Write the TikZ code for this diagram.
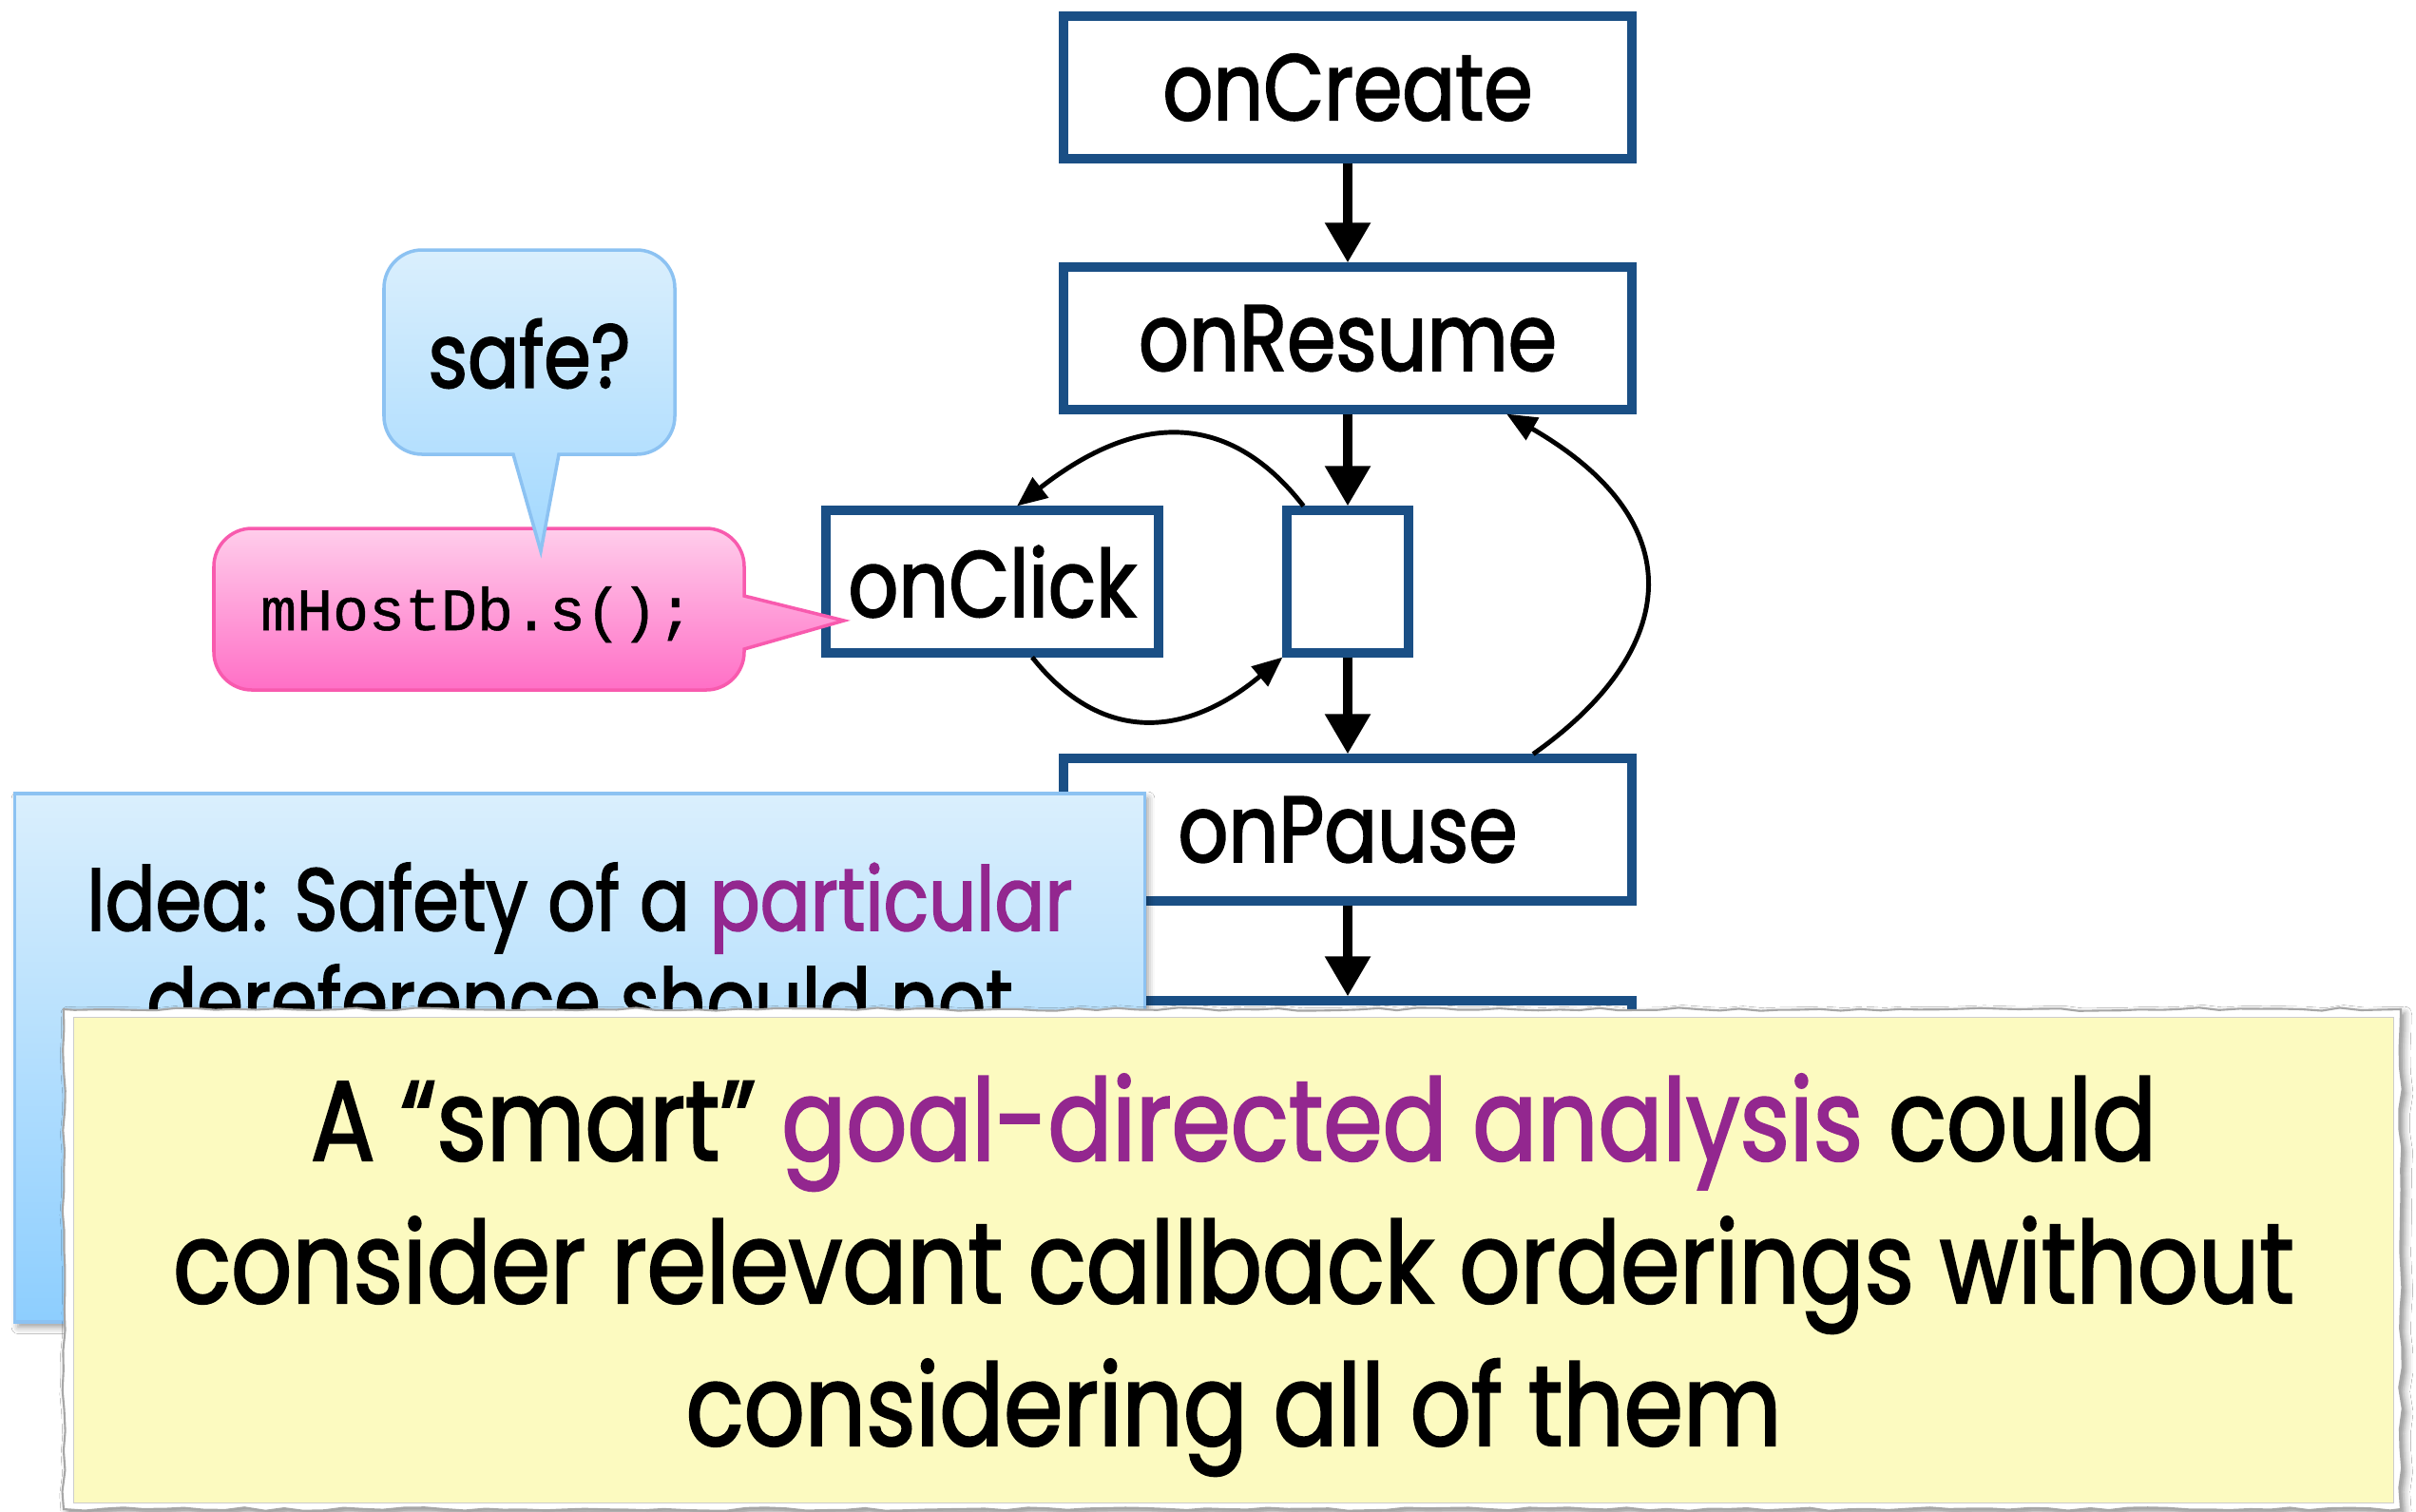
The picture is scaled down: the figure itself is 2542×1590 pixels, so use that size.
\documentclass[tikz,border=0pt]{standalone}
\usepackage{fontspec}
\setmainfont{Poppins}[FakeStretch=0.84, FakeBold=1.8]
\setmonofont{Liberation Mono}[FakeBold=0.8]
\usetikzlibrary{arrows.meta,shadows,shadows.blur,decorations.pathmorphing}

\definecolor{flowblue}{HTML}{1A4F85}
\definecolor{accent}{HTML}{93278F}
\definecolor{noteyellow}{HTML}{FCFAC0}
\definecolor{skytop}{HTML}{DAEFFD}
\definecolor{skybot}{HTML}{A2D8FE}
\definecolor{skyedge}{HTML}{8CC2F2}
\definecolor{ideabot}{HTML}{8DCEFE}
\definecolor{pinktop}{HTML}{FFCDEB}
\definecolor{pinkbot}{HTML}{FF6FC6}
\definecolor{pinkedge}{HTML}{F85AAE}

\tikzset{
  cbbox/.style={draw=flowblue, line width=2.85pt, fill=white, inner sep=0pt,
    minimum height=1.49cm, font=\fontsize{28}{30}\selectfont,
    drop shadow={shadow xshift=1.5pt, shadow yshift=-1.5pt, opacity=0.25, fill=black}},
  flow/.style={line width=2.85pt, -{Triangle[length=12pt,width=13pt]}},
  cbcurve/.style={line width=1.4pt, -{Triangle[length=9pt,width=7.5pt]}},
  bubble/.style={line width=1pt},
  notetext/.style={font=\fontsize{34}{42}\selectfont, anchor=base},
  ideatext/.style={font=\fontsize{26.5}{30}\selectfont, anchor=base},
}

\begin{document}
\begin{tikzpicture}[x=0.01cm, y=-0.01cm]
\useasboundingbox (0,0) rectangle (2542,1590);
\fill[white] (0,0) rectangle (2542,1590);

% callback flow
\node[cbbox, minimum width=5.97cm] (create) at (1418,92)  {onCreate};
\node[cbbox, minimum width=5.97cm] (resume) at (1418,356) {onResume};
\node[cbbox, minimum width=1.27cm] (hub)    at (1418,612) {};
\node[cbbox, minimum width=3.50cm] (click)  at (1044,612) {onClick};
\node[cbbox, minimum width=5.97cm] (pause)  at (1418,873) {onPause};
\node[cbbox, minimum width=5.97cm] (stop)   at (1418,1128) {};

\draw[flow] (create) -- (resume);
\draw[flow] (resume) -- (hub);
\draw[flow] (hub) -- (pause);
\draw[flow] (pause) -- (stop);

\draw[cbcurve] ([xshift=0.22cm]hub.north west) .. controls (1277,411) and (1170,454) .. ([xshift=0.26cm]click.north);
\draw[cbcurve] ([xshift=0.42cm]click.south) .. controls (1160,785) and (1250,775) .. (hub.south west);
\draw[cbcurve] ([xshift=1.95cm]pause.north) .. controls (1760,690) and (1790,554) .. ([xshift=1.67cm]resume.south);

% code bubble
\path[bubble, draw=pinkedge, top color=pinktop, bottom color=pinkbot]
  (888,653) -- (783,683) -- (783,686) .. controls (783,708) and (765,726) .. (743,726)
  -- (265,726) .. controls (243,726) and (225,708) .. (225,686)
  -- (225,596) .. controls (225,574) and (243,556) .. (265,556)
  -- (743,556) .. controls (765,556) and (783,574) .. (783,596)
  -- (783,627) -- cycle;
\node[font=\ttfamily\fontsize{18}{20}\selectfont, anchor=base] (code) at (502,663) {mHostDb.s();};

% question bubble
\path[bubble, draw=skyedge, top color=skytop, bottom color=skybot]
  (569,580) -- (540,478) -- (444,478) .. controls (422,478) and (404,460) .. (404,438)
  -- (404,303) .. controls (404,281) and (422,263) .. (444,263)
  -- (670,263) .. controls (692,263) and (710,281) .. (710,303)
  -- (710,438) .. controls (710,460) and (692,478) .. (670,478)
  -- (588,478) -- cycle;
\node[font=\fontsize{27}{30}\selectfont] (safe) at (557,372) {safe?};

% idea panel
\node[draw=skyedge, line width=1pt, top color=skytop, bottom color=ideabot,
  minimum width=11.88cm, minimum height=5.56cm, inner sep=0pt,
  blur shadow={shadow xshift=1pt, shadow yshift=-1.5pt, shadow blur radius=2pt, shadow opacity=40}] (idea) at (610,1113) {};
\node[ideatext] (idea1) at (610,979) {Idea: Safety of a \textcolor{accent}{particular}};
\node[ideatext] (idea2) at (610,1086) {dereference should not};

% note on top
\pgfmathsetseed{7}
\path[fill=white, draw=black!35, line width=0.6pt, decorate,
  decoration={random steps, segment length=6pt, amplitude=0.5pt},
  blur shadow={shadow xshift=1.2pt, shadow yshift=-1.2pt, shadow blur radius=2pt, shadow opacity=45}]
  (67,1062) rectangle (2526,1588);
\node[fill=noteyellow, draw=black!20, line width=0.4pt, inner sep=0pt,
  minimum width=24.40cm, minimum height=5.11cm] (note) at (1298,1326) {};
\node[notetext] (note1) at (1298,1221) {A “smart” \textcolor{accent}{goal-directed analysis} could};
\node[notetext] (note2) at (1298,1371) {consider relevant callback orderings without};
\node[notetext] (note3) at (1298,1521) {considering all of them};
\end{tikzpicture}
\end{document}
